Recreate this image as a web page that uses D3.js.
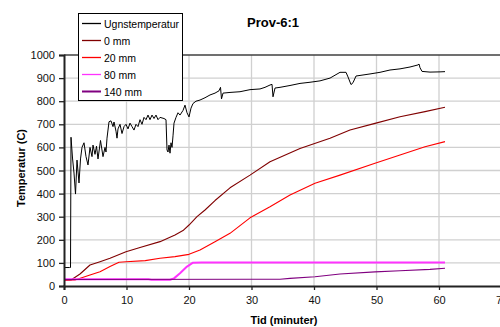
<!DOCTYPE html>
<html>
<head>
<script src="https://d3js.org/d3.v7.min.js"></script>
<style>
    body { margin: 0; background: #fff; }
    svg { display: block; font-family: "Liberation Sans", Arial, sans-serif; }
</style>
</head>
<body>
<script>
// series values, [minutes, temperature]
var ugnTemp = [[0,80],[0.88,80],[1.04,80],[1.12,644],[1.36,554],[1.6,489],[1.84,398],[2.08,545],[2.4,446],[2.64,550],
    [2.88,600],[3.2,620],[3.52,560],[3.84,524],[4.16,600],[4.48,560],[4.64,610],[4.96,570],[5.2,605],[5.44,550],
    [5.84,630],[6.24,560],[6.56,600],[6.72,580],[6.88,640],[7.2,711],[7.52,715],[7.84,690],[8.0,710],[8.32,670],
    [8.48,640],[8.64,680],[8.96,700],[9.28,660],[9.6,690],[9.92,700],[10.24,680],[10.56,705],[10.88,690],[11.2,675],
    [11.52,700],[11.84,690],[12.16,720],[12.48,700],[12.8,730],[13.12,720],[13.44,740],[13.76,720],[14.08,740],[14.4,725],
    [14.72,740],[15.04,720],[15.36,730],[16.0,725],[16.32,720],[16.48,589],[16.64,580],[16.8,610],[16.96,575],[17.12,620],
    [17.28,600],[17.44,650],[17.6,705],[17.92,730],[18.24,750],[18.56,740],[19.04,760],[19.36,783],[19.68,750],[20.0,732],
    [20.32,770],[20.64,790],[21.12,800],[21.76,805],[22.56,815],[23.36,827],[24.16,835],[24.8,845],[25.04,860],[25.2,810],
    [25.44,835],[26.56,838],[28.16,841],[29.76,850],[31.36,853],[32.16,860],[32.96,870],[33.28,873],[33.44,819],[33.76,857],
    [34.56,860],[36.16,868],[37.76,877],[39.36,882],[40.96,888],[42.56,900],[43.52,915],[44.16,925],[45.12,925],[45.44,905],
    [45.92,872],[46.24,880],[46.72,909],[48.96,918],[50.56,925],[52.16,935],[53.76,940],[55.36,948],[56.64,957],[56.8,961],
    [56.96,945],[57.28,929],[58.56,926],[60.16,927],[60.96,928]];
var mm0 = [[0,25],[1.12,26],[2.56,52],[4.16,91],[5.76,105],[7.36,120],[9.92,148],[12.16,167],[15.36,192],[17.76,221],
    [19.04,240],[20,264],[21.28,300],[22.56,329],[24.16,370],[26.56,425],[29.76,480],[32.96,538],[37.76,595],[42.56,640],
    [45.76,675],[49.76,704],[53.76,733],[57.76,755],[60.96,774]];
var mm20 = [[0,25],[1.76,26],[4.16,48],[5.76,62],[7.36,84],[8.8,103],[9.92,105],[13,110],[15.36,120],[17.76,127],
    [20,137],[21.76,156],[24.16,192],[26.56,228],[29.76,295],[32.96,343],[36.16,394],[40.16,445],[44.16,480],[49.76,531],
    [53.76,567],[57.76,603],[60.96,625]];
var mm80 = [[0,29],[13.5,29],[14,27],[16.96,27],[17.6,33],[18.56,55],[19.68,84],[20.64,101],[22,102],[60.96,102]];
var mm140 = [[0,28],[29.76,29],[34.56,29],[36.16,33],[40.16,40],[44.16,52],[49.76,61],[53.76,66],[58.56,72],[60.96,77]];

var seriesNames = ['Ugnstemperatur', '0 mm', '20 mm', '80 mm', '140 mm'];
var seriesData = [ugnTemp, mm0, mm20, mm80, mm140];
var seriesColors = ['#000000', '#800000', '#ff0000', '#ff33ff', '#800080'];
var seriesWidths = [1, 1.1, 1.1, 2, 1.1];

var xTicks = [0, 10, 20, 30, 40, 50, 60, 70];
var yTicks = [0, 100, 200, 300, 400, 500, 600, 700, 800, 900, 1000];

var width = 500, height = 327;

var svg = d3.select('body').append('svg')
    .attr('width', width)
    .attr('height', height);

var x = d3.scaleLinear().domain([0, 70]).range([64, 501.5]);
var y = d3.scaleLinear().domain([0, 1000]).range([286, 55]);

// grid
svg.append('g').selectAll('line.h')
    .data(yTicks.slice(1, -1))
    .enter().append('line')
    .attr('x1', x(0)).attr('x2', x(70))
    .attr('y1', d => y(d)).attr('y2', d => y(d))
    .attr('stroke', '#d0d0d0').attr('stroke-width', 1.3);

svg.append('g').selectAll('line.v')
    .data(xTicks.slice(1))
    .enter().append('line')
    .attr('x1', d => x(d)).attr('x2', d => x(d))
    .attr('y1', y(0)).attr('y2', y(1000))
    .attr('stroke', '#d0d0d0').attr('stroke-width', 1.3);

// top border
svg.append('line')
    .attr('x1', x(0)).attr('x2', x(70))
    .attr('y1', y(1000)).attr('y2', y(1000))
    .attr('stroke', '#404040').attr('stroke-width', 1.5);

// lines
var line = d3.line().x(d => x(d[0])).y(d => y(d[1]));
seriesData.forEach(function (s, i) {
    svg.append('path')
        .datum(s)
        .attr('d', line)
        .attr('fill', 'none')
        .attr('stroke', seriesColors[i])
        .attr('stroke-width', seriesWidths[i])
        .attr('stroke-linejoin', 'round');
});

// axes
var xAxis = svg.append('g')
    .attr('transform', 'translate(0,' + y(0) + ')')
    .call(d3.axisBottom(x).tickValues(xTicks).tickSize(4).tickPadding(6));
var yAxis = svg.append('g')
    .attr('transform', 'translate(' + x(0) + ',0)')
    .call(d3.axisLeft(y).tickValues(yTicks).tickFormat(d3.format('d')).tickSize(5).tickPadding(4));

[xAxis, yAxis].forEach(function (a) {
    a.select('.domain').attr('stroke', '#222').attr('stroke-width', 2);
    a.selectAll('.tick line').attr('stroke', '#222').attr('stroke-width', 1.3);
    a.selectAll('text').attr('font-size', 11).attr('fill', '#111')
        .attr('font-family', '"Liberation Sans", Arial, sans-serif');
});

// titles
svg.append('text')
    .attr('x', 273).attr('y', 27)
    .attr('text-anchor', 'middle')
    .attr('font-size', 13).attr('font-weight', 'bold')
    .text('Prov-6:1');

svg.append('text')
    .attr('x', 284).attr('y', 324)
    .attr('text-anchor', 'middle')
    .attr('font-size', 11).attr('font-weight', 'bold')
    .text('Tid (minuter)');

svg.append('text')
    .attr('transform', 'translate(25,168) rotate(-90)')
    .attr('text-anchor', 'middle')
    .attr('font-size', 11).attr('font-weight', 'bold')
    .text('Temperatur (C)');

// legend
var legend = svg.append('g').attr('id', 'legend');
legend.append('rect')
    .attr('x', 78.5).attr('y', 13.5)
    .attr('width', 104).attr('height', 87)
    .attr('fill', '#fff').attr('stroke', '#000').attr('stroke-width', 1);

var items = legend.selectAll('g.item')
    .data(seriesNames)
    .enter().append('g')
    .attr('transform', (d, i) => 'translate(0,' + (23.5 + i * 17) + ')');
items.append('line')
    .attr('x1', 82).attr('x2', 101)
    .attr('stroke', (d, i) => seriesColors[i])
    .attr('stroke-width', (d, i) => i == 4 ? 2 : 1.3);
items.append('text')
    .attr('x', 104).attr('y', 4)
    .attr('font-size', 10.5)
    .attr('textLength', (d, i) => i == 0 ? 75 : null)
    .text(d => d);
</script>
</body>
</html>
